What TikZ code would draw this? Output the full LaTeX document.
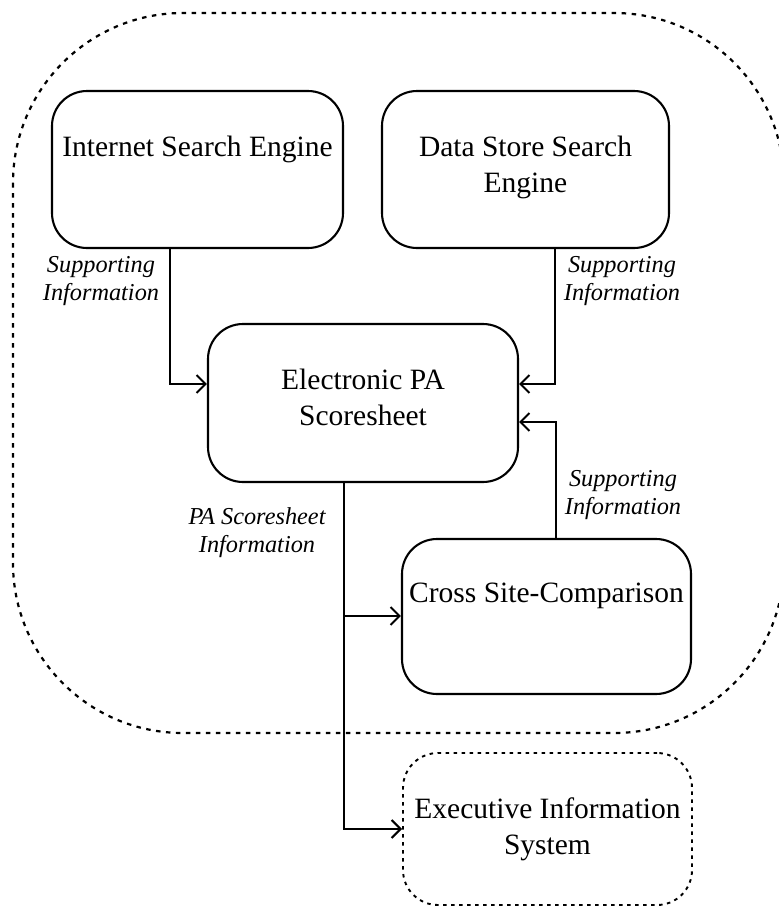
\documentclass[tikz,border=0pt]{standalone}
\usepackage{fontspec}
\setmainfont{Liberation Serif}
\usetikzlibrary{arrows.meta}
\begin{document}
\begin{tikzpicture}[x=1pt,y=-1pt,
  box/.style={draw, line width=2.1pt, rounded corners=35pt, inner sep=0pt},
  dbox/.style={box, dash pattern=on 3.5pt off 4.5pt, line width=1.9pt},
  boxtext/.style={anchor=north, align=center, inner sep=0pt, font=\fontsize{29.5}{35.5}\selectfont},
  lbl/.style={anchor=north, align=center, inner sep=0pt, font=\fontsize{24.3}{28}\selectfont\itshape},
  conn/.style={line width=2pt},
  arr/.style={conn, -{Straight Barb[length=9pt,width=18pt]}},
  outer/.style={line width=2.2pt, dash pattern=on 4.5pt off 5.5pt, rounded corners=170pt}]
\useasboundingbox (0,0) rectangle (779,908);

% enclosing system boundary
\draw[outer] (13,13) rectangle (784,733);

% components
\node[box, minimum width=291pt, minimum height=157pt] (ise) at (197.5,169.5) {};
\node[boxtext] (iset) at (197.5,136) {Internet Search Engine};

\node[box, minimum width=287pt, minimum height=157pt] (dss) at (525.5,169.5) {};
\node[boxtext] (dsst) at (525.5,136) {Data Store Search\\Engine};

\node[box, minimum width=310pt, minimum height=158pt] (epa) at (363,403) {};
\node[boxtext] (epat) at (363,369) {Electronic PA\\Scoresheet};

\node[box, minimum width=289pt, minimum height=155pt] (csc) at (546.5,616.5) {};
\node[boxtext] (csct) at (546.5,583) {Cross Site-Comparison};

\node[dbox, minimum width=289pt, minimum height=152pt] (eis) at (547.5,829) {};
\node[boxtext] (eist) at (547.5,798) {Executive Information\\System};

% junction points of the flows
\coordinate (j1) at (170,384);
\coordinate (j2) at (555,384);
\coordinate (j3) at (556,422);
\coordinate (j4) at (344,616);
\coordinate (j5) at (344,829);

% flows
\draw[arr] (ise.south -| j1) |- (epa.west |- j1);
\draw[arr] (dss.south -| j2) |- (epa.east |- j2);
\draw[arr] (csc.north -| j3) |- (epa.east |- j3);
\draw[arr] (epa.south -| j5) |- (eis.west |- j5);
\draw[arr] (j4) -- (csc.west |- j4);

% flow labels
\node[lbl] (l1) at (101,256) {Supporting\\Information};
\node[lbl] (l2) at (622,256) {Supporting\\Information};
\node[lbl] (l3) at (623,470) {Supporting\\Information};
\node[lbl] (l4) at (257,507) {PA Scoresheet\\Information};
\end{tikzpicture}
\end{document}
